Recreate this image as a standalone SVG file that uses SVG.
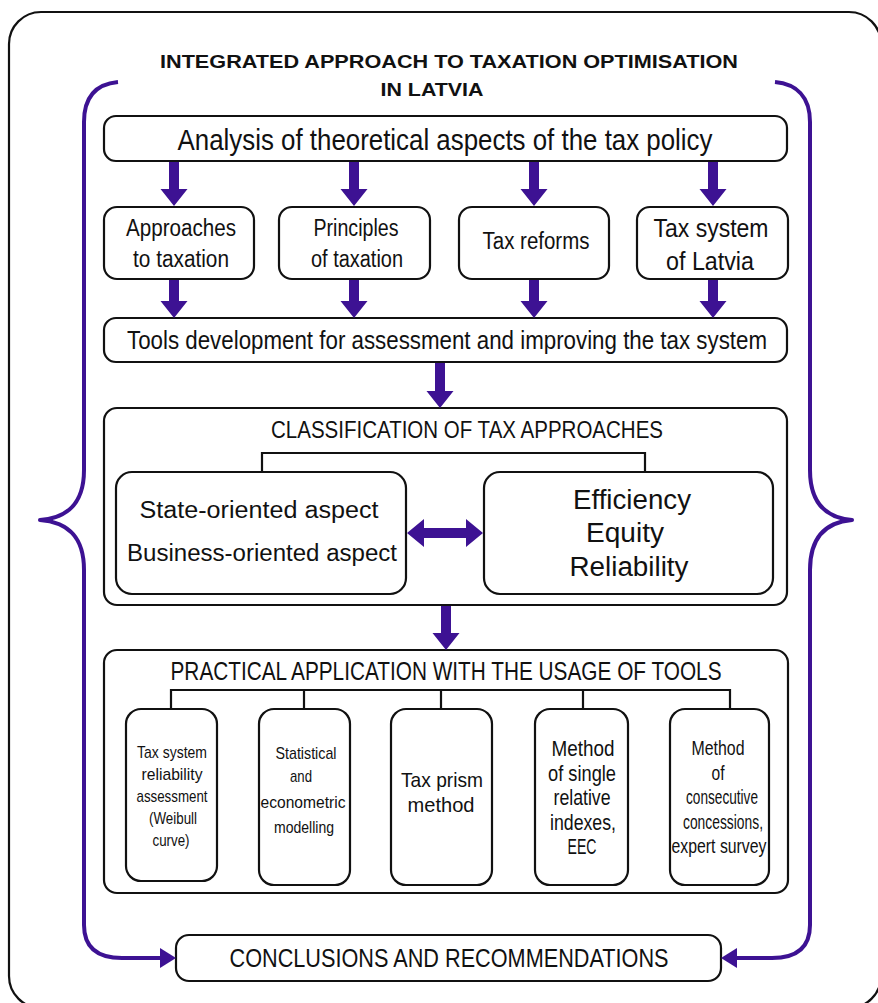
<svg xmlns="http://www.w3.org/2000/svg" width="878" height="1003" viewBox="0 0 878 1003">
  <defs>
    <style>
      .box { fill: #ffffff; stroke: #111111; stroke-width: 2.2; }
      .frame { fill: #ffffff; stroke: #111111; stroke-width: 2.2; }
      .link { fill: none; stroke: #111111; stroke-width: 2.2; }
      .brace { fill: none; stroke: #3d1293; stroke-width: 4; stroke-linejoin: round; }
      .arw { fill: #3d1293; }
      text { font-family: "Liberation Sans", Arial, sans-serif; fill: #111111; text-anchor: middle; dominant-baseline: central; }
      .title { font-weight: bold; font-size: 19px; }
      .big { font-size: 30px; }
      .mid { font-size: 23px; }
      .tool { font-size: 17px; }
    </style>
  </defs>

  <!-- outer frame -->
  <rect class="frame" x="9" y="12" width="872" height="996" rx="32"/>

  <!-- heading -->
  <g id="heading">
    <text class="title" x="449" y="61" textLength="578" lengthAdjust="spacingAndGlyphs">INTEGRATED APPROACH TO TAXATION OPTIMISATION</text>
    <text class="title" x="432" y="89" textLength="103" lengthAdjust="spacingAndGlyphs">IN LATVIA</text>
  </g>

  <!-- theory analysis -->
  <g id="analysis">
    <rect class="box" x="104" y="116" width="683" height="45" rx="12"/>
    <text class="big" x="445" y="139" textLength="535" lengthAdjust="spacingAndGlyphs">Analysis of theoretical aspects of the tax policy</text>
  </g>

  <g id="approaches">
    <rect class="box" x="104" y="207" width="150" height="72" rx="13"/>
    <text class="mid" x="181" y="228" textLength="110" lengthAdjust="spacingAndGlyphs">Approaches</text>
    <text class="mid" x="181" y="259" textLength="96" lengthAdjust="spacingAndGlyphs">to taxation</text>
  </g>

  <g id="principles">
    <rect class="box" x="279" y="207" width="151" height="72" rx="13"/>
    <text class="mid" x="356" y="228" textLength="85" lengthAdjust="spacingAndGlyphs">Principles</text>
    <text class="mid" x="357" y="259" textLength="92" lengthAdjust="spacingAndGlyphs">of taxation</text>
  </g>

  <g id="reforms">
    <rect class="box" x="459" y="207" width="150" height="72" rx="13"/>
    <text class="mid" x="536" y="241" textLength="107" lengthAdjust="spacingAndGlyphs">Tax reforms</text>
  </g>

  <g id="latvia">
    <rect class="box" x="637" y="207" width="151" height="72" rx="13"/>
    <text x="711" y="228" font-size="26" textLength="115" lengthAdjust="spacingAndGlyphs">Tax system</text>
    <text x="710" y="261" font-size="26" textLength="88" lengthAdjust="spacingAndGlyphs">of Latvia</text>
  </g>

  <g id="tools">
    <rect class="box" x="104" y="318" width="683" height="44" rx="12"/>
    <text x="447" y="340" font-size="26" textLength="640" lengthAdjust="spacingAndGlyphs">Tools development for assessment and improving the tax system</text>
  </g>

  <!-- classification block -->
  <g id="classification">
    <rect class="box" x="104" y="408" width="683" height="197" rx="13"/>
    <text x="467" y="429" font-size="24" textLength="392" lengthAdjust="spacingAndGlyphs">CLASSIFICATION OF TAX APPROACHES</text>
  </g>

  <g id="aspects">
    <rect class="box" x="116" y="472" width="290" height="122" rx="16"/>
    <text x="259" y="510" font-size="23" textLength="239" lengthAdjust="spacingAndGlyphs">State-oriented aspect</text>
    <text x="262" y="553" font-size="23" textLength="270" lengthAdjust="spacingAndGlyphs">Business-oriented aspect</text>
  </g>

  <g id="criteria">
    <rect class="box" x="484" y="472" width="289" height="122" rx="16"/>
    <text x="632" y="500" font-size="27" textLength="118" lengthAdjust="spacingAndGlyphs">Efficiency</text>
    <text x="625" y="533" font-size="27" textLength="78" lengthAdjust="spacingAndGlyphs">Equity</text>
    <text x="629" y="567" font-size="27" textLength="119" lengthAdjust="spacingAndGlyphs">Reliability</text>
  </g>

  <!-- practical application block -->
  <g id="practical">
    <rect class="box" x="104" y="650" width="684" height="243" rx="13"/>
    <text x="446" y="671" font-size="25" textLength="551" lengthAdjust="spacingAndGlyphs">PRACTICAL APPLICATION WITH THE USAGE OF TOOLS</text>
  </g>

  <g id="weibull">
    <rect class="box" x="126" y="709" width="91" height="172" rx="15"/>
    <text class="tool" x="172" y="752" textLength="70" lengthAdjust="spacingAndGlyphs">Tax system</text>
    <text class="tool" x="172" y="774" textLength="61" lengthAdjust="spacingAndGlyphs">reliability</text>
    <text class="tool" x="172" y="796" textLength="71" lengthAdjust="spacingAndGlyphs">assessment</text>
    <text class="tool" x="173" y="818" textLength="48" lengthAdjust="spacingAndGlyphs">(Weibull</text>
    <text class="tool" x="171" y="840" textLength="37" lengthAdjust="spacingAndGlyphs">curve)</text>
  </g>

  <g id="statistical">
    <rect class="box" x="259" y="709" width="91" height="176" rx="15"/>
    <text class="tool" x="306" y="753" textLength="61" lengthAdjust="spacingAndGlyphs">Statistical</text>
    <text class="tool" x="301" y="776" textLength="22" lengthAdjust="spacingAndGlyphs">and</text>
    <text class="tool" x="303" y="802" textLength="85" lengthAdjust="spacingAndGlyphs">econometric</text>
    <text class="tool" x="304" y="827" textLength="60" lengthAdjust="spacingAndGlyphs">modelling</text>
  </g>

  <g id="prism">
    <rect class="box" x="391" y="709" width="101" height="176" rx="15"/>
    <text x="442" y="779" font-size="21" textLength="82" lengthAdjust="spacingAndGlyphs">Tax prism</text>
    <text x="441" y="804" font-size="21" textLength="67" lengthAdjust="spacingAndGlyphs">method</text>
  </g>

  <g id="indexes">
    <rect class="box" x="535" y="709" width="93" height="176" rx="15"/>
    <text x="583" y="748" font-size="22" textLength="63" lengthAdjust="spacingAndGlyphs">Method</text>
    <text x="582" y="773" font-size="22" textLength="68" lengthAdjust="spacingAndGlyphs">of single</text>
    <text x="582" y="797" font-size="22" textLength="57" lengthAdjust="spacingAndGlyphs">relative</text>
    <text x="583" y="822" font-size="22" textLength="66" lengthAdjust="spacingAndGlyphs">indexes,</text>
    <text x="582" y="846" font-size="22" textLength="29" lengthAdjust="spacingAndGlyphs">EEC</text>
  </g>

  <g id="concessions">
    <rect class="box" x="670" y="709" width="99" height="176" rx="15"/>
    <text x="718" y="748" font-size="20" textLength="53" lengthAdjust="spacingAndGlyphs">Method</text>
    <text x="718" y="773" font-size="20" textLength="13" lengthAdjust="spacingAndGlyphs">of</text>
    <text x="722" y="797" font-size="20" textLength="72" lengthAdjust="spacingAndGlyphs">consecutive</text>
    <text x="723" y="822" font-size="20" textLength="80" lengthAdjust="spacingAndGlyphs">concessions,</text>
    <text x="719" y="846" font-size="20" textLength="95" lengthAdjust="spacingAndGlyphs">expert survey</text>
  </g>

  <!-- outcome -->
  <g id="conclusions">
    <rect class="box" x="176" y="935" width="545" height="46" rx="13"/>
    <text x="449" y="958" font-size="25" textLength="439" lengthAdjust="spacingAndGlyphs">CONCLUSIONS AND RECOMMENDATIONS</text>
  </g>

  <!-- connectors, drawn over the boxes -->
  <g id="connectors">
    <!-- side braces leading to conclusions -->
    <path class="brace" d="M118,82 C97,84 84,96 84,122 L84,470 C84,505 66,518 40,520 C66,522 84,535 84,570 L84,925 C84,948 98,958 122,958 L162,958"/>
    <path class="arw" d="M176,958 L160,948 L160,968 Z"/>
    <path class="brace" d="M775,82 C796,84 810,96 810,122 L810,470 C810,505 828,518 852,520 C828,522 810,535 810,570 L810,925 C810,948 796,958 772,958 L736,958"/>
    <path class="arw" d="M721,958 L737,948 L737,968 Z"/>

    <g class="arw">
      <!-- analysis to topics -->
      <path d="M169,162 L179,162 L179,189 L187.5,189 L174,206 L160.5,189 L169,189 Z"/>
      <path d="M349,162 L359,162 L359,189 L367.5,189 L354,206 L340.5,189 L349,189 Z"/>
      <path d="M529,162 L539,162 L539,189 L547.5,189 L534,206 L520.5,189 L529,189 Z"/>
      <path d="M708,162 L718,162 L718,189 L726.5,189 L713,206 L699.5,189 L708,189 Z"/>
      <!-- topics to tools development -->
      <path d="M169,280 L179,280 L179,301 L187.5,301 L174,318 L160.5,301 L169,301 Z"/>
      <path d="M349,280 L359,280 L359,301 L367.5,301 L354,318 L340.5,301 L349,301 Z"/>
      <path d="M529,280 L539,280 L539,301 L547.5,301 L534,318 L520.5,301 L529,301 Z"/>
      <path d="M708,280 L718,280 L718,301 L726.5,301 L713,318 L699.5,301 L708,301 Z"/>
      <!-- tools development to classification -->
      <path d="M435,363 L445,363 L445,391 L453.5,391 L440,408 L426.5,391 L435,391 Z"/>
      <!-- classification to practical application -->
      <path d="M441,606 L451,606 L451,633 L459.5,633 L446,650 L432.5,633 L441,633 Z"/>
      <!-- two-way link between aspects and criteria -->
      <path d="M407,533 L424,519 L424,528 L466,528 L466,519 L483,533 L466,547 L466,538 L424,538 L424,547 Z"/>
    </g>

    <!-- classification branches -->
    <path class="link" d="M262,472 L262,453 L645,453 L645,472"/>
    <!-- practical application branches -->
    <path class="link" d="M171,709 L171,690 L730,690 L730,709 M304,690 L304,709 M441,690 L441,709 M583,690 L583,709"/>
  </g>
</svg>
